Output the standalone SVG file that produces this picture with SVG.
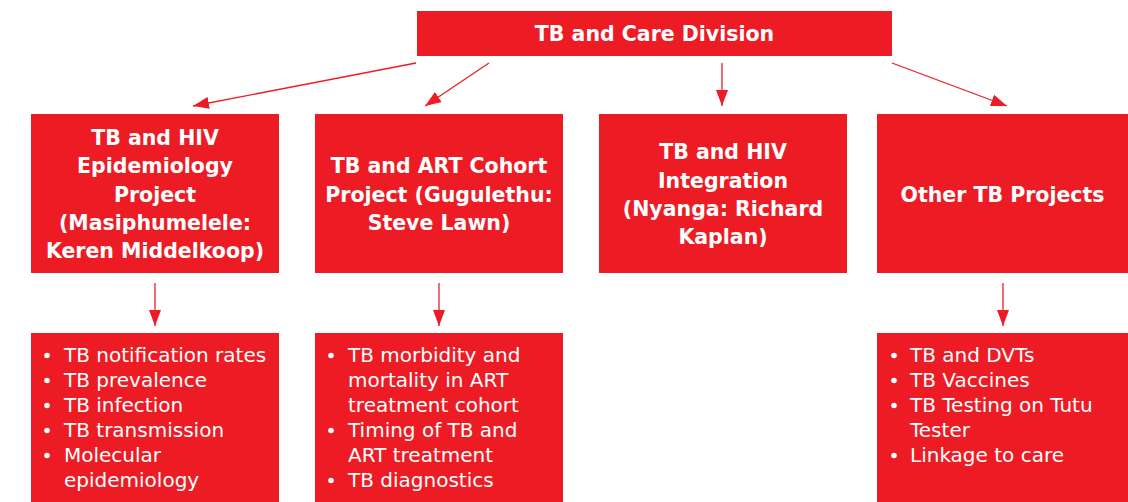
<svg xmlns="http://www.w3.org/2000/svg" width="1128" height="502" viewBox="0 0 1128 502">
<style>
.box{fill:#ED1C24;}
.h{font-family:"DejaVu Sans","Liberation Sans",sans-serif;font-weight:bold;font-size:20.5px;fill:#fff;text-anchor:middle;}
.b{font-family:"DejaVu Sans","Liberation Sans",sans-serif;font-size:20px;fill:#fff;}
.dot{fill:#fff;}
.conn{stroke:#ED1C24;stroke-width:1.3;fill:none;marker-end:url(#ah);}
</style>
<defs>
<marker id="ah" markerUnits="userSpaceOnUse" markerWidth="16" markerHeight="12" refX="16" refY="6" orient="auto">
<path d="M0,0 L16,6 L0,12 z" fill="#ED1C24"/>
</marker>
</defs>
<rect width="1128" height="502" fill="#fff"/>
<g id="connectors">
<line class="conn" x1="416" y1="63" x2="193" y2="106"/>
<line class="conn" x1="489" y1="63" x2="425" y2="106"/>
<line class="conn" x1="722" y1="63" x2="722" y2="106"/>
<line class="conn" x1="892" y1="63" x2="1007" y2="106"/>
<line class="conn" x1="155" y1="283" x2="155" y2="326"/>
<line class="conn" x1="439" y1="283" x2="439" y2="326"/>
<line class="conn" x1="1003" y1="283" x2="1003" y2="326"/>
</g>
<g id="root">
<rect class="box" x="417" y="11" width="475" height="45"/>
<text class="h" x="654.5" y="41">TB and Care Division</text>
</g>
<g id="epi">
<rect class="box" x="31" y="114" width="248" height="159"/>
<text class="h" x="155" y="145">TB and HIV</text>
<text class="h" x="155" y="173.3">Epidemiology</text>
<text class="h" x="155" y="201.6">Project</text>
<text class="h" x="155" y="230">(Masiphumelele:</text>
<text class="h" x="155" y="258.3">Keren Middelkoop)</text>
</g>
<g id="art">
<rect class="box" x="315" y="114" width="248" height="159"/>
<text class="h" x="439" y="173.4">TB and ART Cohort</text>
<text class="h" x="439" y="201.7">Project (Gugulethu:</text>
<text class="h" x="439" y="230">Steve Lawn)</text>
</g>
<g id="integration">
<rect class="box" x="599" y="114" width="248" height="159"/>
<text class="h" x="723" y="159.2">TB and HIV</text>
<text class="h" x="723" y="187.5">Integration</text>
<text class="h" x="723" y="215.8">(Nyanga: Richard</text>
<text class="h" x="723" y="244.1">Kaplan)</text>
</g>
<g id="other">
<rect class="box" x="877" y="114" width="251" height="159"/>
<text class="h" x="1002.5" y="201.5">Other TB Projects</text>
</g>
<g id="epi-list">
<rect class="box" x="31" y="333" width="248" height="169"/>
<circle class="dot" cx="47" cy="355.5" r="2.8"/>
<circle class="dot" cx="47" cy="380.5" r="2.8"/>
<circle class="dot" cx="47" cy="405.5" r="2.8"/>
<circle class="dot" cx="47" cy="430.5" r="2.8"/>
<circle class="dot" cx="47" cy="455.5" r="2.8"/>
<text class="b" x="64" y="362">TB notification rates</text>
<text class="b" x="64" y="387">TB prevalence</text>
<text class="b" x="64" y="412">TB infection</text>
<text class="b" x="64" y="437">TB transmission</text>
<text class="b" x="64" y="462">Molecular</text>
<text class="b" x="64" y="487">epidemiology</text>
</g>
<g id="art-list">
<rect class="box" x="315" y="333" width="248" height="169"/>
<circle class="dot" cx="331" cy="355.5" r="2.8"/>
<circle class="dot" cx="331" cy="430.5" r="2.8"/>
<circle class="dot" cx="331" cy="480.5" r="2.8"/>
<text class="b" x="348" y="362">TB morbidity and</text>
<text class="b" x="348" y="387">mortality in ART</text>
<text class="b" x="348" y="412">treatment cohort</text>
<text class="b" x="348" y="437">Timing of TB and</text>
<text class="b" x="348" y="462">ART treatment</text>
<text class="b" x="348" y="487">TB diagnostics</text>
</g>
<g id="other-list">
<rect class="box" x="877" y="333" width="251" height="169"/>
<circle class="dot" cx="894" cy="355.5" r="2.8"/>
<circle class="dot" cx="894" cy="380.5" r="2.8"/>
<circle class="dot" cx="894" cy="405.5" r="2.8"/>
<circle class="dot" cx="894" cy="455.5" r="2.8"/>
<text class="b" x="910" y="362">TB and DVTs</text>
<text class="b" x="910" y="387">TB Vaccines</text>
<text class="b" x="910" y="412">TB Testing on Tutu</text>
<text class="b" x="910" y="437">Tester</text>
<text class="b" x="910" y="462">Linkage to care</text>
</g>
</svg>
